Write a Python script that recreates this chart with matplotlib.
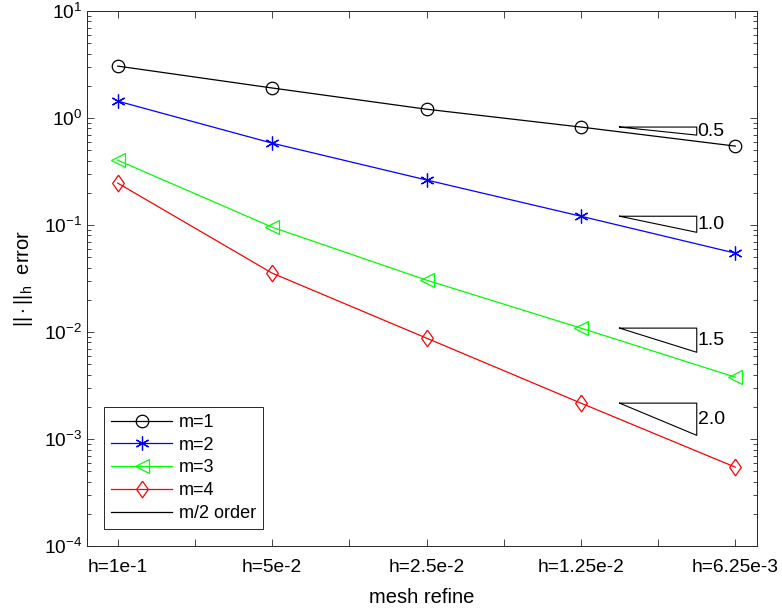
import numpy as np
import matplotlib
matplotlib.use("Agg")
import matplotlib.pyplot as plt
from matplotlib.ticker import LogLocator, NullFormatter, FixedLocator

plt.rcParams['font.family'] = ['Liberation Sans', 'DejaVu Sans']
plt.rcParams['mathtext.fontset'] = 'custom'
plt.rcParams['mathtext.rm'] = 'Liberation Sans'
plt.rcParams['mathtext.it'] = 'Liberation Sans'
plt.rcParams['mathtext.bf'] = 'Liberation Sans'

# --- data ---
mesh_labels = ["h=1e-1", "h=5e-2", "h=2.5e-2", "h=1.25e-2", "h=6.25e-3"]
err_m1 = [3.06, 1.91, 1.21, 0.824, 0.547]
err_m2 = [1.44, 0.583, 0.264, 0.121, 0.0547]
err_m3 = [0.404, 0.0957, 0.0306, 0.0109, 0.00379]
err_m4 = [0.247, 0.0356, 0.00879, 0.00217, 0.000547]
orders = [0.5, 1.0, 1.5, 2.0]

# matlab-like markers
asterisk = (6, 2, 0)
tall_diamond = [(0, 1), (0.7, 0), (0, -1), (-0.7, 0), (0, 1)]

series = [
    ("m=1", err_m1, 'k', 'o', 9),
    ("m=2", err_m2, '#0000ff', asterisk, 10),
    ("m=3", err_m3, '#00ff00', '<', 10),
    ("m=4", err_m4, '#ff0000', tall_diamond, 12),
]

x = np.arange(1, len(mesh_labels) + 1)

fig = plt.figure(figsize=(7.82, 6.13), dpi=100)
ax = fig.add_axes([0.111, 0.109, 0.857, 0.873])

for name, vals, col, mk, ms in series:
    ax.plot(x, vals, color=col, marker=mk, markersize=ms,
            markerfacecolor='none', markeredgecolor=col, markeredgewidth=0.9,
            linewidth=0.9, label=name)

# slope triangles, anchored at the 4th mesh point of each series
for order, s in zip(orders, series):
    y0 = s[1][3]
    x0, x1 = 4.25, 4.75
    y1 = y0 * 2.0 ** (-order * (x1 - x0))
    ax.plot([x0, x1, x1, x0], [y0, y0, y1, y0], color='k', linewidth=0.8)
    ax.text(x1 + 0.005, np.sqrt(y0 * y1), f"{order:.1f}", fontsize=14,
            ha='left', va='center')

# legend entry for the triangles
ax.plot([], [], color='k', linewidth=0.9, label="m/2 order")

ax.set_yscale('log')
ax.set_ylim(1e-4, 1e1)
ax.set_xlim(0.8, 5.14)

xt = np.arange(1, 5.01, 0.5)
ax.xaxis.set_major_locator(FixedLocator(xt))
ax.set_xticklabels([mesh_labels[int(t) - 1] if float(t).is_integer() else "" for t in xt])
ax.yaxis.set_major_locator(LogLocator(base=10, numticks=10))
ax.yaxis.set_minor_locator(LogLocator(base=10, subs=np.arange(2, 10), numticks=20))
ax.yaxis.set_minor_formatter(NullFormatter())

ax.tick_params(which='both', direction='in', top=True, right=True,
               labelsize=13.8, color='#262626', width=0.6)
ax.tick_params(which='major', length=5)
ax.tick_params(which='minor', length=3)
ax.tick_params(axis='x', pad=9)
for sp in ax.spines.values():
    sp.set_color('#262626')
    sp.set_linewidth(0.7)

ax.set_xlabel("mesh refine", fontsize=14.5, labelpad=9)
ax.set_ylabel(r"$||\cdot||_h$  error", fontsize=14.5, labelpad=6)

leg = ax.legend(loc='lower left', bbox_to_anchor=(0.02, 0.025), fontsize=13,
                fancybox=False, framealpha=1, edgecolor='#262626',
                handlelength=3.4, handletextpad=0.35, borderpad=0.4,
                labelspacing=0.32, borderaxespad=0.2)
leg.get_frame().set_linewidth(0.7)

fig.savefig("out.png", dpi=100)
